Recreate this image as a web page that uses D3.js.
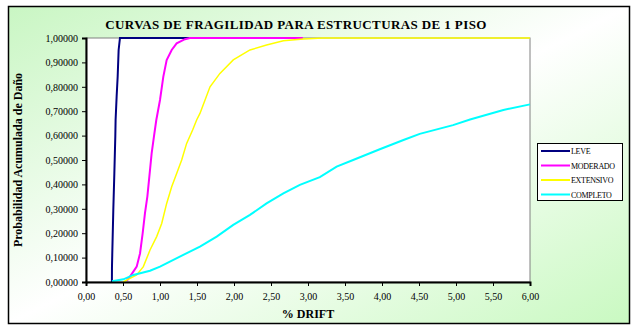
<!DOCTYPE html>
<html>
<head>
<meta charset="utf-8">
<script src="https://cdn.jsdelivr.net/npm/d3@7"></script>
<style>
  body { margin: 0; background: #fff; }
  svg { display: block; font-family: "Liberation Serif", "Times New Roman", serif; }
</style>
</head>
<body>
<div id="chart"></div>
<script>
// % drift vs cumulative probability
const leveX = [0.35, 0.351, 0.369, 0.383, 0.396, 0.40, 0.414, 0.428, 0.441, 0.459, 1.40];
const leveY = [0.0, 0.063, 0.295, 0.445, 0.596, 0.664, 0.76, 0.842, 0.951, 1.0, 1.0];

const moderadoX = [0.55, 0.595, 0.685, 0.73, 0.766, 0.797, 0.829, 0.856, 0.887, 0.919, 0.95, 1.0, 1.045, 1.09, 1.158, 1.225, 1.338, 1.405, 2.93];
const moderadoY = [0.005, 0.022, 0.063, 0.117, 0.20, 0.282, 0.35, 0.432, 0.527, 0.598, 0.664, 0.746, 0.842, 0.91, 0.951, 0.978, 0.995, 1.0, 1.0];

const extensivoX = [0.50, 0.55, 0.685, 0.775, 0.865, 0.955, 1.023, 1.09, 1.158, 1.225, 1.293, 1.36, 1.441, 1.495, 1.54, 1.676, 1.81, 1.99, 2.216, 2.44, 2.667, 2.94, 3.2, 6.0];
const extensivoY = [0.0, 0.008, 0.029, 0.063, 0.131, 0.186, 0.24, 0.322, 0.39, 0.445, 0.50, 0.568, 0.623, 0.664, 0.691, 0.80, 0.855, 0.91, 0.951, 0.971, 0.989, 0.996, 1.0, 1.0];

const completoX = [0.351, 0.505, 0.64, 0.865, 1.0, 1.315, 1.54, 1.766, 1.99, 2.216, 2.44, 2.667, 2.89, 3.16, 3.387, 3.61, 3.97, 4.29, 4.51, 4.96, 5.19, 5.64, 6.0];
const completoY = [0.003, 0.011, 0.029, 0.046, 0.063, 0.111, 0.145, 0.186, 0.234, 0.275, 0.322, 0.363, 0.398, 0.43, 0.473, 0.50, 0.544, 0.582, 0.607, 0.643, 0.666, 0.705, 0.728];

const seriesNames = ["LEVE", "MODERADO", "EXTENSIVO", "COMPLETO"];
const seriesColors = ["#000080", "#ff00ff", "#ffff00", "#00ffff"];
const xTicks = [0, 0.5, 1, 1.5, 2, 2.5, 3, 3.5, 4, 4.5, 5, 5.5, 6];
const yTicks = [0, 0.1, 0.2, 0.3, 0.4, 0.5, 0.6, 0.7, 0.8, 0.9, 1.0];

const width = 639, height = 330;
const plot = { left: 86, top: 38, right: 530, bottom: 282 };

const svg = d3.select("#chart").append("svg")
    .attr("width", width)
    .attr("height", height);

// chart area: green in top-left and bottom-right corners, white across the other diagonal
const defs = svg.append("defs");
const grad = defs.append("linearGradient")
    .attr("id", "bg")
    .attr("x1", 0).attr("y1", 0).attr("x2", 1).attr("y2", 1);
grad.append("stop").attr("offset", "0").attr("stop-color", "#c9f6c3");
grad.append("stop").attr("offset", "0.5").attr("stop-color", "#ffffff");
grad.append("stop").attr("offset", "1").attr("stop-color", "#c9f9c1");

svg.append("rect")
    .attr("x", 8.5).attr("y", 6.5)
    .attr("width", 621).attr("height", 317)
    .attr("fill", "url(#bg)")
    .attr("stroke", "#000")
    .attr("stroke-width", 1.5);

const x = d3.scaleLinear().domain([0, 6]).range([plot.left, plot.right]);
const y = d3.scaleLinear().domain([0, 1]).range([plot.bottom, plot.top]);

// plot area
svg.append("rect")
    .attr("x", plot.left).attr("y", plot.top)
    .attr("width", plot.right - plot.left)
    .attr("height", plot.bottom - plot.top)
    .attr("fill", "#fff")
    .attr("stroke", "#808080")
    .attr("stroke-width", 1);

// title
svg.append("text")
    .attr("x", 296).attr("y", 29)
    .attr("text-anchor", "middle")
    .attr("font-size", 13)
    .attr("font-weight", "bold")
    .attr("letter-spacing", 0.4)
    .text("CURVAS DE FRAGILIDAD PARA ESTRUCTURAS DE 1 PISO");

// series
const seriesX = [leveX, moderadoX, extensivoX, completoX];
const seriesY = [leveY, moderadoY, extensivoY, completoY];
const widths = [2, 2, 1.5, 2];

const line = d3.line()
    .x(d => x(d[0]))
    .y(d => y(d[1]));

seriesNames.forEach((name, i) => {
    const pts = seriesX[i].map((v, j) => [v, seriesY[i][j]]);
    svg.append("path")
        .datum(pts)
        .attr("fill", "none")
        .attr("stroke", seriesColors[i])
        .attr("stroke-width", widths[i])
        .attr("d", line);
});

// axes
const xAxis = svg.append("g")
    .attr("transform", `translate(0,${plot.bottom})`)
    .call(d3.axisBottom(x).tickValues(xTicks).tickSize(4)
        .tickFormat(d => d3.format(".2f")(d).replace(".", ",")));
const yAxis = svg.append("g")
    .attr("transform", `translate(${plot.left},0)`)
    .call(d3.axisLeft(y).tickValues(yTicks).tickSize(4)
        .tickFormat(d => d3.format(".5f")(d).replace(".", ",")));

[xAxis, yAxis].forEach(g => {
    g.select(".domain").attr("stroke", "#000").attr("stroke-width", 2);
    g.selectAll(".tick line").attr("stroke", "#000");
    g.selectAll(".tick text")
        .attr("font-family", "Liberation Serif, serif")
        .attr("font-size", 10)
        .attr("fill", "#000");
});
xAxis.selectAll(".tick text").attr("dy", "1.05em");
yAxis.selectAll(".tick text").attr("x", -8);

// axis titles
svg.append("text")
    .attr("x", (plot.left + plot.right) / 2).attr("y", 318)
    .attr("text-anchor", "middle")
    .attr("font-size", 12)
    .attr("font-weight", "bold")
    .text("% DRIFT");

svg.append("text")
    .attr("transform", `translate(22,${(plot.top + plot.bottom) / 2}) rotate(-90)`)
    .attr("text-anchor", "middle")
    .attr("font-size", 12)
    .attr("font-weight", "bold")
    .text("Probabilidad Acumulada de Daño");

// legend
const legend = svg.append("g").attr("transform", "translate(537,143)");
legend.append("rect")
    .attr("x", 0.5).attr("y", 0.5)
    .attr("width", 85).attr("height", 57)
    .attr("fill", "#fff")
    .attr("stroke", "#000");
seriesNames.forEach((name, i) => {
    const ly = 8 + i * 14.5;
    legend.append("line")
        .attr("x1", 4).attr("x2", 33)
        .attr("y1", ly).attr("y2", ly)
        .attr("stroke", seriesColors[i])
        .attr("stroke-width", 2);
    legend.append("text")
        .attr("x", 34).attr("y", ly + 3)
        .attr("font-size", 8)
        .attr("letter-spacing", -0.3)
        .text(name);
});
</script>
</body>
</html>
